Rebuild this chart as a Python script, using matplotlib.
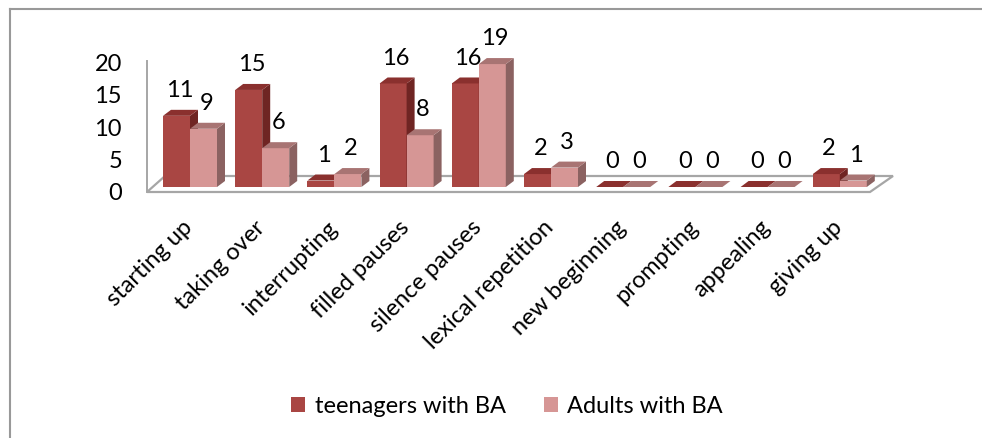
import matplotlib
matplotlib.use('Agg')
from matplotlib import pyplot as plt
from matplotlib.patches import Polygon, Patch
from matplotlib.lines import Line2D
from matplotlib.transforms import ScaledTranslation
import numpy as np

categories = ['starting up', 'taking over', 'interrupting', 'filled pauses', 'silence pauses',
              'lexical repetition', 'new beginning', 'prompting', 'appealing', 'giving up']
teenagers = [11, 15, 1, 16, 16, 2, 0, 0, 0, 2]
adults = [9, 6, 2, 8, 19, 3, 0, 0, 0, 1]
series_names = ['teenagers with BA', 'Adults with BA']

# front / top / side colours for each series
red = ['#A94643', '#8A302E', '#6F2523']
pink = ['#D69695', '#A87473', '#8B6261']

plt.rcParams['font.family'] = ['Lato', 'DejaVu Sans']
fs = 17

W, H = 982, 439
fig = plt.figure(figsize=(W / 100, H / 100), dpi=100)

# axes placed in pixels: x 140..900, y 50..200
ax = fig.add_axes([140 / W, (H - 200) / H, 760 / W, 150 / H])
px_x = 72.2   # px per category
px_v = 6.47   # px per unit
ax.set_xlim((140 - 190) / px_x, (900 - 190) / px_x)
ax.set_ylim((188 - 200) / px_v, (188 - 50) / px_v)
for s in ax.spines.values():
    s.set_visible(False)

def X(px):
    return (px - 190) / px_x

def V(py):
    return (188 - py) / px_v

bw = 27 / px_x
dx = 8 / px_x
dy = 6 / px_v

# floor and wall
floor = Polygon([(X(147), V(193)), (X(870), V(193)), (X(893), V(177)), (X(165), V(177))],
                closed=True, facecolor='white', edgecolor='#A6A6A6', lw=1.6, zorder=1)
ax.add_patch(floor)
ax.plot([X(147), X(147)], [V(193), V(62)], color='#A6A6A6', lw=1.4, zorder=1)

def bar3d(x0, v, cols, z):
    if v > 0:
        ax.bar(x0, v, width=bw, align='edge', color=cols[0], lw=0, zorder=z)
        side = [(x0 + bw, 0), (x0 + bw + dx, dy), (x0 + bw + dx, v + dy), (x0 + bw, v)]
        ax.add_patch(Polygon(side, closed=True, facecolor=cols[2], lw=0, zorder=z))
    top = [(x0, v), (x0 + bw, v), (x0 + bw + dx, v + dy), (x0 + dx, v + dy)]
    ax.add_patch(Polygon(top, closed=True, facecolor=cols[1], lw=0, zorder=z))

x = np.arange(len(categories))
for i in x:
    bar3d(i - bw, teenagers[i], red, 2 + i * 2)
    bar3d(i, adults[i], pink, 3 + i * 2)
    ax.annotate(str(teenagers[i]), (i - bw / 2, teenagers[i]), xytext=(2, 19),
                textcoords='offset points', ha='center', va='center', fontsize=fs, zorder=30)
    ax.annotate(str(adults[i]), (i + bw / 2, adults[i]), xytext=(2, 19),
                textcoords='offset points', ha='center', va='center', fontsize=fs, zorder=30)

ax.set_yticks([0, 5, 10, 15, 20])
ax.tick_params(axis='y', length=0, pad=13, labelsize=fs)
for lab in ax.get_yticklabels():
    lab.set_transform(lab.get_transform() + ScaledTranslation(0, -4 / 100, fig.dpi_scale_trans))

ax.set_xticks(x - 8 / px_x)
ax.set_xticklabels(categories, rotation=45, ha='right', va='top', rotation_mode='anchor', fontsize=fs)
ax.tick_params(axis='x', length=0, pad=12)

handles = [Patch(facecolor=red[0]), Patch(facecolor=pink[0])]
fig.legend(handles, series_names, loc='center', bbox_to_anchor=(507 / W, 1 - 407 / H),
           ncol=2, frameon=False, fontsize=fs, handlelength=0.6, handleheight=0.6,
           handletextpad=0.4, columnspacing=1.6)

# chart border (cropped: only left and top visible)
fig.add_artist(Line2D([10 / W, 10 / W], [0, 1 - 10 / H], color='#999999', lw=1.5))
fig.add_artist(Line2D([10 / W, 1], [1 - 10 / H, 1 - 10 / H], color='#999999', lw=1.5))

fig.savefig('out.png', dpi=100)
